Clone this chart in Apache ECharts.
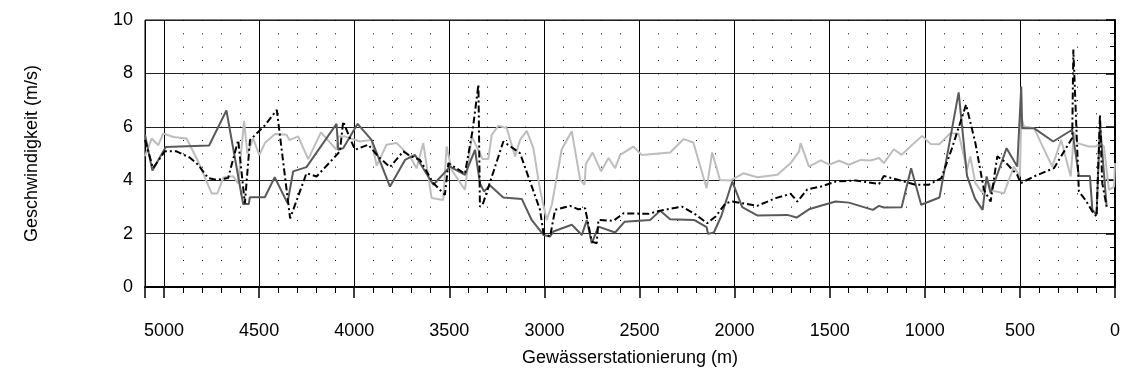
<!DOCTYPE html>
<html>
<head>
<meta charset="utf-8">
<script src="https://cdn.jsdelivr.net/npm/echarts@6/dist/echarts.min.js"></script>
<style>
html,body{margin:0;padding:0;background:#fff;}
#chart{width:1124px;height:381px;}
</style>
</head>
<body>
<div id="chart"></div>
<script>
// Station (m) and velocity (m/s) for each of the three curves
const darkX = [5100,5061,4991,4763,4672,4584,4554,4549,4470,4418,4351,4321,4251,4093,4084,4058,3982,3909,3812,3733,3681,3584,3496,3418,3365,3339,3318,3286,3216,3119,3067,3005,2970,2953,2856,2803,2777,2751,2716,2628,2579,2444,2391,2339,2214,2147,2140,2109,2070,2012,1960,1881,1723,1674,1609,1547,1469,1399,1273,1241,1215,1122,1072,1019,923,822,778,736,696,675,654,570,514,493,488,426,325,225,190,132,119,97,79,44];
const darkY = [5.7,4.36,5.24,5.3,6.61,3.11,3.11,3.36,3.36,4.11,3.14,4.33,4.49,6.11,5.14,5.2,6.11,5.51,3.76,4.76,4.95,3.83,4.51,4.2,5.14,3.89,3.58,3.8,3.35,3.3,2.51,1.95,1.89,2.08,2.33,1.95,2.51,1.64,2.26,2.04,2.44,2.51,2.86,2.54,2.51,2.24,1.99,2.04,2.66,3.95,2.99,2.68,2.7,2.6,2.91,3.04,3.2,3.16,2.89,3.04,2.98,2.99,4.45,3.08,3.35,7.29,4.16,3.31,2.89,4.14,3.51,5.2,4.51,7.51,5.95,5.95,5.45,5.89,4.16,4.16,2.89,2.7,6.1,3.01];

const lightX = [5100,5065,5030,5004,4951,4881,4820,4749,4720,4688,4636,4610,4579,4562,4531,4499,4469,4416,4356,4340,4295,4242,4175,4093,4084,4049,3970,3909,3882,3830,3777,3750,3707,3672,3637,3593,3532,3514,3488,3418,3382,3325,3295,3277,3242,3198,3154,3128,3093,3058,3023,2988,2961,2909,2856,2812,2789,2782,2747,2702,2663,2628,2602,2532,2488,2339,2268,2217,2147,2118,2077,2021,1954,1881,1775,1705,1661,1653,1609,1547,1503,1451,1399,1337,1285,1241,1215,1163,1122,1066,1014,970,923,866,822,778,761,734,700,672,640,584,532,500,493,479,426,330,283,233,215,198,137,102,76,58,32,5,0];
const lightY = [4.9,5.56,5.31,5.75,5.62,5.56,4.69,3.5,3.5,4.1,4.15,3.88,6.22,5.0,5.56,4.94,5.4,5.73,5.7,5.5,5.64,4.79,5.79,5.14,5.64,5.64,5.45,5.51,4.54,5.33,5.39,5.2,4.89,4.45,5.39,3.33,3.26,5.26,4.39,3.64,5.64,4.79,4.79,5.7,6.04,5.95,4.89,5.51,5.85,5.2,3.64,2.51,3.08,5.16,5.83,4.01,3.83,4.61,5.04,4.33,4.83,4.45,4.95,5.26,4.94,5.04,5.54,5.41,3.7,5.04,4.01,3.99,4.26,4.11,4.2,4.64,5.08,5.39,4.51,4.74,4.58,4.73,4.58,4.76,4.74,4.83,4.64,5.16,4.95,5.33,5.66,5.36,5.35,5.76,5.74,4.39,4.89,3.89,3.55,4.0,3.6,3.51,4.51,4.14,6.39,6.01,5.95,4.51,5.51,4.14,5.8,5.39,5.26,5.26,5.39,5.26,3.64,3.76,4.64];

const dashX = [5100,5058,4996,4935,4865,4821,4768,4725,4663,4610,4575,4548,4469,4407,4337,4251,4198,4075,4058,4030,3996,3926,3874,3812,3742,3707,3654,3584,3523,3505,3418,3377,3347,3339,3325,3216,3128,3023,3005,2970,2961,2944,2865,2821,2786,2751,2725,2716,2637,2584,2453,2391,2277,2214,2144,2100,2047,2012,1881,1784,1705,1670,1618,1547,1469,1364,1241,1215,1128,1049,979,913,857,783,734,689,654,619,580,514,496,426,321,225,219,190,155,119,97,79,67,44];
const dashY = [5.51,4.45,5.08,5.08,4.85,4.58,4.08,4.01,4.08,5.5,3.13,5.5,6.06,6.63,2.57,4.26,4.14,5.08,6.2,5.7,5.14,5.33,4.89,4.49,5.08,4.91,4.76,3.89,3.45,4.64,4.24,5.89,7.58,3.01,3.08,5.45,5.01,2.89,2.01,1.89,1.91,2.89,3.04,2.91,2.95,1.7,1.64,2.51,2.48,2.76,2.74,2.86,3.01,2.76,2.39,2.64,3.14,3.2,3.04,3.33,3.49,3.2,3.66,3.76,3.95,3.99,3.86,4.16,3.99,3.83,3.83,4.08,5.2,6.83,5.39,3.64,3.2,4.89,4.7,4.2,3.89,4.14,4.45,5.58,8.89,3.58,3.26,2.83,2.64,6.45,3.89,3.01];

const xTitle = 'Gewässerstationierung (m)';
const yTitle = 'Geschwindigkeit (m/s)';

const pairs = (xs, ys) => xs.map((x, i) => [x, ys[i]]);
const FONT = 'Liberation Sans, Arial, sans-serif';

const chart = echarts.init(document.getElementById('chart'), null, {renderer: 'canvas'});
chart.setOption({
  animation: false,
  backgroundColor: '#fff',
  grid: {left: 145, right: 9, top: 20, bottom: 94, show: true, borderColor: '#000', borderWidth: 1, backgroundColor: 'transparent'},
  xAxis: {
    type: 'value', inverse: true, min: 0, max: 5100, interval: 500,
    name: xTitle, nameLocation: 'middle', nameGap: 62,
    nameTextStyle: {fontFamily: FONT, fontSize: 18, color: '#000'},
    axisLine: {show: true, lineStyle: {color: '#000', width: 2}},
    axisTick: {show: true, length: 11, lineStyle: {color: '#000', width: 1.5}},
    minorTick: {show: true, splitNumber: 5, length: 6, lineStyle: {color: '#000', width: 1}},
    axisLabel: {fontFamily: FONT, fontSize: 18, color: '#000', margin: 35,
      formatter: v => (v % 500 === 0 ? String(v) : '')},
    splitLine: {show: true, lineStyle: {color: '#000', width: 1}},
    minorSplitLine: {show: true, lineStyle: {color: '#000', width: 1, type: [1, 12.333]}}
  },
  yAxis: {
    type: 'value', min: 0, max: 10, interval: 2,
    name: yTitle, nameLocation: 'middle', nameGap: 104,
    nameTextStyle: {fontFamily: FONT, fontSize: 18, color: '#000'},
    axisLine: {show: true, lineStyle: {color: '#000', width: 2}},
    axisTick: {show: true, length: 9, lineStyle: {color: '#000', width: 1.5}},
    minorTick: {show: true, splitNumber: 4, length: 5, lineStyle: {color: '#000', width: 1}},
    axisLabel: {fontFamily: FONT, fontSize: 18, color: '#000', margin: 12},
    splitLine: {show: true, lineStyle: {color: '#222', width: 1}}
  },
  series: [
    {type: 'line', data: pairs(lightX, lightY), symbol: 'none', z: 2,
      lineStyle: {color: '#bdbdbd', width: 2}},
    {type: 'line', data: pairs(darkX, darkY), symbol: 'none', z: 3,
      lineStyle: {color: '#5a5a5a', width: 2}},
    {type: 'line', data: pairs(dashX, dashY), symbol: 'none', z: 4,
      lineStyle: {color: '#000', width: 2, type: [7, 3, 2, 3]}}
  ]
});
</script>
</body>
</html>
